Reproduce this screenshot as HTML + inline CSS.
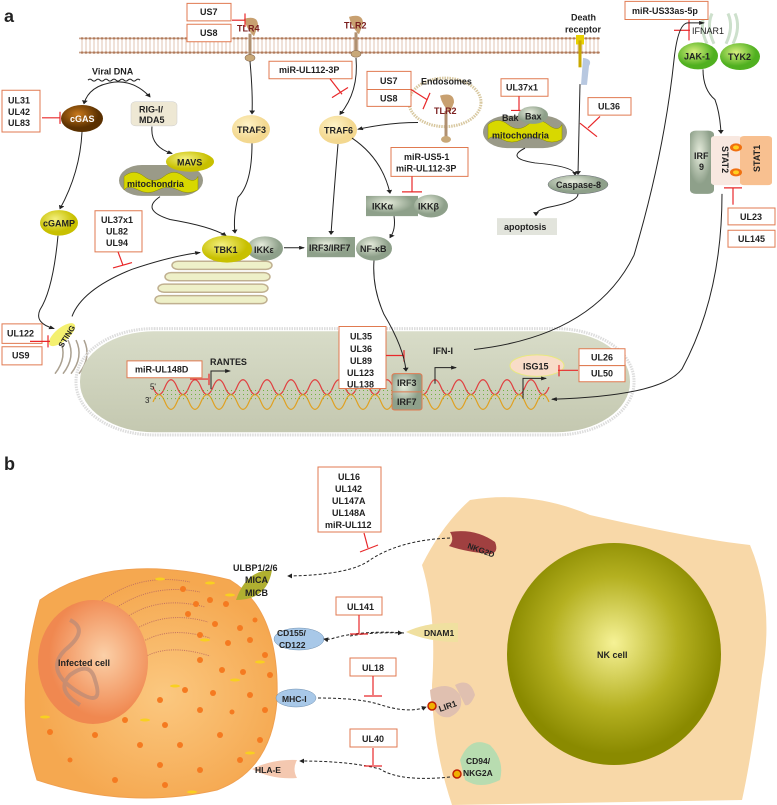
<!DOCTYPE html>
<html><head><meta charset="utf-8"><style>
html,body{margin:0;padding:0;background:#fff}
svg{display:block}
text{font-family:"Liberation Sans",Arial,sans-serif;font-size:9px;fill:#222;font-weight:bold}
.a text{transform-box:fill-box;transform-origin:center;transform:scaleY(1.485)}
.a path,.a line,.a rect,.a circle,.a ellipse{vector-effect:non-scaling-stroke}
.bx{fill:#fff;stroke:#e07a50;stroke-width:1}
.ln{fill:none;stroke:#222;stroke-width:1}
.ds{fill:none;stroke:#222;stroke-width:1;stroke-dasharray:3,2}
.rd{stroke:#e8282a;stroke-width:1.2;fill:none}
.gol{fill:#eef0c8;stroke:#c0b090;stroke-width:1.5}
</style></head><body>
<svg width="777" height="805" viewBox="0 0 777 805" xmlns="http://www.w3.org/2000/svg">
<defs>
<marker id="ar" viewBox="0 0 6 6" refX="5" refY="3" markerWidth="5" markerHeight="5" orient="auto"><path d="M0,0L6,3L0,6z" fill="#222"/></marker>
<radialGradient id="gy" cx="40%" cy="35%"><stop offset="0" stop-color="#f4f080"/><stop offset="1" stop-color="#c8c000"/></radialGradient>
<radialGradient id="gl" cx="40%" cy="35%"><stop offset="0" stop-color="#fff4c8"/><stop offset="1" stop-color="#f3d890"/></radialGradient>
<radialGradient id="gg" cx="40%" cy="35%"><stop offset="0" stop-color="#e6ecdc"/><stop offset="1" stop-color="#8ea08a"/></radialGradient>
<radialGradient id="gr" cx="40%" cy="35%"><stop offset="0" stop-color="#d8f080"/><stop offset="1" stop-color="#50b020"/></radialGradient>
<radialGradient id="gb" cx="40%" cy="35%"><stop offset="0" stop-color="#c8781a"/><stop offset="1" stop-color="#5a3000"/></radialGradient>
<radialGradient id="nk" cx="50%" cy="45%"><stop offset="0" stop-color="#f6f296"/><stop offset="0.6" stop-color="#b4b020"/><stop offset="1" stop-color="#8a8a00"/></radialGradient>
<radialGradient id="ic" cx="55%" cy="55%"><stop offset="0" stop-color="#fbc880"/><stop offset="1" stop-color="#f5a850"/></radialGradient>
<radialGradient id="nu" cx="60%" cy="45%"><stop offset="0" stop-color="#fbd0a8"/><stop offset="1" stop-color="#f08850"/></radialGradient>
<linearGradient id="nuc" x1="0" y1="0" x2="0" y2="1"><stop offset="0" stop-color="#d8dcc8"/><stop offset="1" stop-color="#c4c8b0"/></linearGradient>
<pattern id="mem" width="4" height="27" patternUnits="userSpaceOnUse"><circle cx="2" cy="3" r="1.8" fill="#b07a5a"/><circle cx="2" cy="24" r="1.8" fill="#b07a5a"/><line x1="2" y1="5" x2="2" y2="22" stroke="#d8b8a0" stroke-width="0.8"/></pattern>
</defs>

<g class="a" transform="scale(1,0.6733)">
<text x="4" y="30" style="font-size:18px">a</text>
<rect x="79" y="55" width="521" height="27" fill="url(#mem)"/>
<path d="M244,28 q14,-6 14,10 l-4,16 q-8,-12 -10,-26z" fill="#c8a070"/>
<line x1="250" y1="50" x2="250" y2="85" stroke="#b09070" stroke-width="3"/>
<circle cx="250" cy="86" r="5" fill="#c8a878" stroke="#8a6a50" stroke-width="0.6"/>
<text x="237" y="45" style="fill:#7a1e1e">TLR4</text>
<path d="M349,25 q14,-6 14,10 l-4,16 q-8,-12 -10,-26z" fill="#c8a070"/>
<line x1="356" y1="48" x2="356" y2="80" stroke="#b09070" stroke-width="3"/>
<circle cx="356" cy="80" r="5" fill="#c8a878" stroke="#8a6a50" stroke-width="0.6"/>
<text x="344" y="41" style="fill:#7a1e1e">TLR2</text>
<text x="571" y="29">Death</text><text x="565" y="47">receptor</text>
<rect x="576" y="52" width="8" height="14" fill="#e8d000"/>
<line x1="580" y1="60" x2="580" y2="100" stroke="#c8a800" stroke-width="3"/>
<path d="M583,86 q10,2 6,12 l-2,28 l-6,0 z" fill="#b8c8e0"/>
<path d="M705,20 q-6,20 2,45 M712,20 q-6,20 2,45 M728,20 q6,20 -2,45 M735,20 q6,20 -2,45" stroke="#cde0cc" stroke-width="3" fill="none"/>
<rect class="bx" x="625" y="2" width="83" height="27"/><text x="632" y="19">miR-US33as-5p</text>
<text x="692" y="49" style="font-weight:normal">IFNAR1</text>
<line class="rd" x1="689" y1="30" x2="689" y2="60"/><line class="rd" x1="674" y1="45" x2="690" y2="45"/>
<ellipse cx="698" cy="83" rx="20" ry="20" fill="url(#gr)"/><text x="684" y="87">JAK-1</text>
<ellipse cx="740" cy="84" rx="20" ry="20" fill="url(#gr)"/><text x="728" y="88">TYK2</text>

<rect class="bx" x="187" y="5" width="44" height="26"/><text x="200" y="21">US7</text>
<rect class="bx" x="187" y="36" width="44" height="26"/><text x="200" y="52">US8</text>
<line class="rd" x1="232" y1="30" x2="245" y2="30"/><line class="rd" x1="245" y1="20" x2="245" y2="40"/>

<text x="92" y="109">Viral DNA</text>
<path d="M88,119 q2,-3 4,0 t4,0 t4,0 t4,0 t4,0 t4,0 t4,0 t4,0 t4,0 t4,0 t4,0 t4,0 t4,0" class="ln" stroke-width="0.8"/>
<path class="ln" d="M114,122 q-25,5 -30,32" marker-end="url(#ar)"/>
<path class="ln" d="M114,122 q20,-3 36,22" marker-end="url(#ar)"/>
<rect class="bx" x="2" y="134" width="38" height="62"/><text x="8" y="152">UL31</text><text x="8" y="169">UL42</text><text x="8" y="186">UL83</text>
<line class="rd" x1="42" y1="175" x2="60" y2="175"/><line class="rd" x1="60" y1="166" x2="60" y2="184"/>
<ellipse cx="82" cy="176" rx="21" ry="20" fill="url(#gb)"/><text x="70" y="180" style="fill:#fff">cGAS</text>
<rect x="131" y="151" width="46" height="36" rx="5" fill="#eee8d4" stroke="#ccc" stroke-width="0.5"/><text x="139" y="166">RIG-I/</text><text x="139" y="181">MDA5</text>
<path class="ln" d="M82,196 q-2,60 -22,114" marker-end="url(#ar)"/>
<ellipse cx="59" cy="331" rx="19" ry="19" fill="url(#gy)"/><text x="43" y="335">cGAMP</text>
<path class="ln" d="M152,188 q-2,30 20,40" marker-end="url(#ar)"/>
<rect x="119" y="245" width="84" height="46" rx="23" fill="#9a9a88"/>
<path d="M124,262 q10,-12 20,0 t20,0 t20,0 t14,0 v20 q-10,8 -20,0 t-20,0 t-20,0 t-14,0z" fill="#d8d800" stroke="#8a8a00" stroke-width="0.5"/>
<text x="127" y="276">mitochondria</text>
<ellipse cx="190" cy="240" rx="24" ry="15" fill="url(#gy)"/><text x="177" y="244">MAVS</text>
<path class="ln" d="M160,292 q-20,20 10,34 q40,10 56,24" marker-end="url(#ar)"/>
<ellipse cx="251" cy="192" rx="19" ry="21" fill="url(#gl)"/><text x="237" y="196">TRAF3</text>
<path class="ln" d="M250,91 q3,50 2,78" marker-end="url(#ar)"/>
<path class="ln" d="M252,213 q0,60 -14,80 q-5,30 -3,53" marker-end="url(#ar)"/>
<rect class="bx" x="269" y="91" width="83" height="26"/><text x="279" y="107">miR-UL112-3P</text>
<line class="rd" x1="330" y1="117" x2="342" y2="140"/><line class="rd" x1="332" y1="145" x2="348" y2="130"/>
<path class="ln" d="M356,86 q3,50 -16,84" marker-end="url(#ar)"/>
<ellipse cx="338" cy="193" rx="19" ry="21" fill="url(#gl)"/><text x="324" y="197">TRAF6</text>
<circle cx="445" cy="152" r="36" fill="none" stroke="#d8c8a0" stroke-width="3" stroke-dasharray="1.5,1"/>
<text x="421" y="124">Endosomes</text>
<path d="M440,142 q14,-6 14,10 l-4,16 q-8,-12 -10,-26z" fill="#c8a070"/>
<line x1="446" y1="165" x2="446" y2="205" stroke="#b09070" stroke-width="3"/>
<circle cx="446" cy="207" r="5" fill="#c8a878"/>
<text x="434" y="168" style="fill:#7a1e1e">TLR2</text>
<rect class="bx" x="367" y="106" width="44" height="27"/><text x="380" y="123">US7</text>
<rect class="bx" x="367" y="133" width="44" height="25"/><text x="380" y="149">US8</text>
<line class="rd" x1="411" y1="133" x2="427" y2="148"/><line class="rd" x1="430" y1="138" x2="423" y2="162"/>
<path class="ln" d="M418,182 q-30,0 -60,10" marker-end="url(#ar)"/>
<rect class="bx" x="501" y="117" width="47" height="26"/><text x="506" y="133">UL37x1</text>
<line class="rd" x1="519" y1="143" x2="519" y2="165"/><line class="rd" x1="511" y1="164" x2="528" y2="164"/>
<rect x="483" y="172" width="84" height="48" rx="24" fill="#9a9a88"/>
<path d="M488,185 q10,-12 20,0 t20,0 t20,0 t14,0 v22 q-10,8 -20,0 t-20,0 t-20,0 t-14,0z" fill="#d8d800" stroke="#8a8a00" stroke-width="0.5"/>
<ellipse cx="533" cy="171" rx="15" ry="13" fill="url(#gg)"/>
<text x="502" y="178">Bak</text><text x="525" y="176">Bax</text>
<text x="492" y="204">mitochondria</text>
<rect class="bx" x="588" y="145" width="43" height="26"/><text x="598" y="161">UL36</text>
<line class="rd" x1="600" y1="173" x2="588" y2="190"/><line class="rd" x1="580" y1="183" x2="597" y2="203"/>
<path class="ln" d="M580,125 q-1,60 -2,134" marker-end="url(#ar)"/>
<path class="ln" d="M525,220 q-20,15 10,22 q40,5 40,18" marker-end="url(#ar)"/>
<ellipse cx="578" cy="274" rx="30" ry="14" fill="url(#gg)" stroke="#556" stroke-width="0.4"/><text x="556" y="278">Caspase-8</text>
<path class="ln" d="M578,288 q0,12 -30,20 q-12,4 -12,12" marker-end="url(#ar)"/>
<rect x="497" y="324" width="60" height="25" fill="#e2e4dc"/><text x="504" y="340">apoptosis</text>
<rect class="bx" x="391" y="219" width="77" height="43"/><text x="404" y="236">miR-US5-1</text><text x="396" y="253">miR-UL112-3P</text>
<line class="rd" x1="412" y1="262" x2="412" y2="285"/><line class="rd" x1="402" y1="285" x2="422" y2="285"/>
<path class="ln" d="M352,205 q30,30 38,82" marker-end="url(#ar)"/>
<rect x="366" y="291" width="52" height="30" fill="url(#gg)"/>
<ellipse cx="431" cy="306" rx="17" ry="17" fill="url(#gg)"/>
<text x="372" y="310">IKKα</text><text x="418" y="310">IKKβ</text>
<path class="ln" d="M394,321 q2,20 -4,32" marker-end="url(#ar)"/>
<path class="ln" d="M338,214 q-4,70 -7,134" marker-end="url(#ar)"/>
<rect class="bx" x="95" y="313" width="47" height="61"/><text x="101" y="330">UL37x1</text><text x="106" y="347">UL82</text><text x="106" y="364">UL94</text>
<line class="rd" x1="118" y1="374" x2="123" y2="394"/><line class="rd" x1="113" y1="398" x2="132" y2="390"/>
<!-- golgi -->
<rect class="gol" x="172" y="388" width="100" height="12" rx="6"/>
<rect class="gol" x="165" y="405" width="105" height="12" rx="6"/>
<rect class="gol" x="158" y="422" width="110" height="12" rx="6"/>
<rect class="gol" x="155" y="439" width="112" height="12" rx="6"/>
<ellipse cx="265" cy="369" rx="18" ry="18" fill="url(#gg)"/>
<ellipse cx="227" cy="370" rx="25" ry="20" fill="url(#gy)"/>
<text x="214" y="374">TBK1</text><text x="254" y="374">IKKε</text>
<path class="ln" d="M284,368 L304,368" marker-end="url(#ar)"/>
<rect x="307" y="352" width="48" height="30" fill="url(#gg)"/><text x="309" y="371">IRF3/IRF7</text>
<ellipse cx="374" cy="369" rx="18" ry="18" fill="url(#gg)"/><text x="360" y="373">NF-κB</text>
<path class="ln" d="M58,350 q-5,80 -18,110 q-6,20 14,28" marker-end="url(#ar)"/>
<path class="ln" d="M72,470 q10,-40 60,-70 q40,-20 68,-25" marker-end="url(#ar)"/>
<path d="M60,505 q8,25 -5,50 M68,505 q8,25 -5,50 M76,505 q8,25 -5,50 M84,505 q8,25 -5,50" stroke="#aaa090" stroke-width="1.5" fill="none"/>
<ellipse cx="62" cy="497" rx="8" ry="20" transform="rotate(35 62 497)" fill="#f4f070"/>
<rect class="bx" x="2" y="481" width="40" height="29"/><text x="7" y="498">UL122</text>
<rect class="bx" x="2" y="515" width="40" height="27"/><text x="12" y="531">US9</text>
<line class="rd" x1="30" y1="507" x2="50" y2="507"/><line class="rd" x1="48" y1="498" x2="48" y2="516"/>
<rect x="76" y="488" width="558" height="158" rx="78" fill="none" stroke="#ddd" stroke-width="3" stroke-dasharray="1.5,1"/>
<rect x="80" y="492" width="550" height="150" rx="74" fill="url(#nuc)"/>
<path d="M153,575 q6,22 12,0 t12,0 t12,0 t12,0 t12,0 t12,0 t12,0 t12,0 t12,0 t12,0 t12,0 t12,0 t12,0 t12,0 t12,0 t12,0 t12,0 t12,0 t12,0 t12,0 t12,0 t12,0 t12,0 t12,0 t12,0 t12,0 t12,0 t12,0 t12,0 t12,0 t12,0 t12,0 t12,0" fill="none" stroke="#e04040" stroke-width="1.2"/>
<path d="M153,597 q6,-22 12,0 t12,0 t12,0 t12,0 t12,0 t12,0 t12,0 t12,0 t12,0 t12,0 t12,0 t12,0 t12,0 t12,0 t12,0 t12,0 t12,0 t12,0 t12,0 t12,0 t12,0 t12,0 t12,0 t12,0 t12,0 t12,0 t12,0 t12,0 t12,0 t12,0 t12,0 t12,0 t12,0" fill="none" stroke="#e0a020" stroke-width="1.2"/>
<path d="M155,580 h390 M155,586 h390 M155,592 h390" stroke="#70b040" stroke-width="1" stroke-dasharray="1,3"/>
<text x="150" y="577" style="font-size:8px;font-weight:normal">5'</text><text x="145" y="597" style="font-size:8px;font-weight:normal">3'</text>
<rect class="bx" x="127" y="536" width="75" height="25"/><text x="135" y="552">miR-UL148D</text>
<line class="rd" x1="190" y1="563" x2="208" y2="563"/><line class="rd" x1="209" y1="555" x2="209" y2="572"/>
<path d="M211,578 V551 H230" class="ln" stroke-width="1.8" marker-end="url(#ar)"/>
<text x="210" y="541">RANTES</text>
<rect class="bx" x="339" y="485" width="47" height="92"/>
<text x="350" y="503">UL35</text><text x="350" y="521">UL36</text><text x="350" y="539">UL89</text><text x="347" y="557">UL123</text><text x="347" y="574">UL138</text>
<line class="rd" x1="386" y1="528" x2="404" y2="528"/><line class="rd" x1="404" y1="520" x2="404" y2="537"/>
<path class="ln" d="M374,387 q-2,40 10,80 q20,50 22,84" marker-end="url(#ar)"/>
<rect x="392" y="555" width="30" height="54" rx="3" fill="url(#gg)" stroke="#e07a50"/>
<line x1="392" y1="582" x2="422" y2="582" stroke="#e07a50"/>
<text x="397" y="572">IRF3</text><text x="397" y="600">IRF7</text>
<path d="M435,570 V546 H456" class="ln" stroke-width="1.8" marker-end="url(#ar)"/>
<text x="433" y="524">IFN-I</text>
<path class="ln" d="M474,519 q120,-20 160,-140 q30,-150 40,-290 q4,-55 14,-55 l16,0" marker-end="url(#ar)"/>
<ellipse cx="537" cy="543" rx="27" ry="16" fill="#f8dcc8" stroke="#e8e880" stroke-width="1"/><text x="523" y="547">ISG15</text>
<path d="M523,592 V562 H546" class="ln" stroke-width="1.8" marker-end="url(#ar)"/>
<rect class="bx" x="579" y="518" width="46" height="25"/><text x="591" y="534">UL26</text>
<rect class="bx" x="579" y="543" width="46" height="24"/><text x="591" y="558">UL50</text>
<line class="rd" x1="558" y1="550" x2="578" y2="550"/><line class="rd" x1="559" y1="542" x2="559" y2="559"/>
<path class="ln" d="M703,103 q0,30 12,45 q5,20 6,50" marker-end="url(#ar)"/>
<rect x="690" y="194" width="24" height="94" rx="6" fill="url(#gg)"/>
<text x="694" y="235">IRF</text><text x="699" y="251">9</text>
<rect x="711" y="202" width="31" height="73" rx="4" fill="#f8e8e0"/>
<rect x="740" y="202" width="32" height="73" rx="4" fill="#f8c090"/>
<ellipse cx="736" cy="219" rx="6" ry="6" fill="#f07010"/><ellipse cx="736" cy="219" rx="3" ry="3" fill="#ffd020"/>
<ellipse cx="736" cy="256" rx="6" ry="6" fill="#f07010"/><ellipse cx="736" cy="256" rx="3" ry="3" fill="#ffd020"/>
<line class="rd" x1="733" y1="279" x2="733" y2="304"/><line class="rd" x1="724" y1="279" x2="742" y2="279"/>
<rect class="bx" x="728" y="309" width="47" height="25"/><text x="740" y="325">UL23</text>
<rect class="bx" x="728" y="342" width="47" height="25"/><text x="738" y="358">UL145</text>
<path class="ln" d="M722,288 q0,150 -40,260 q-20,40 -130,45" marker-end="url(#ar)"/>
</g>
<text x="52" y="343" transform="rotate(-58 62 336)" style="font-size:8px">STING</text>
<text x="722" y="146" transform="rotate(90 722 146)">STAT2</text>
<text x="760" y="172" transform="rotate(-90 760 172)">STAT1</text>

<!-- ===== Part b ===== -->
<text x="4" y="470" style="font-size:18px">b</text>
<path d="M470,500 q60,-10 120,15 q110,25 160,30 q25,60 12,130 q-10,80 -20,125 l-290,5 q-20,-60 -20,-120 q5,-70 -10,-120 q20,-40 48,-65z" fill="#f8d8a8"/>
<ellipse cx="614" cy="654" rx="107" ry="111" fill="url(#nk)"/>
<text x="597" y="658">NK cell</text>
<path d="M40,600 q70,-50 190,-20 q50,30 47,120 q-5,70 -60,90 q-90,20 -180,-10 q-25,-80 3,-180z" fill="url(#ic)" stroke="#f0a050" stroke-width="1"/>
<g stroke="#c07060" stroke-width="1" fill="none" stroke-dasharray="1,1.2">
<path d="M100,602 q40,-30 90,-20"/><path d="M110,612 q40,-30 90,-20"/><path d="M120,622 q35,-28 85,-15"/><path d="M128,634 q35,-25 80,-12"/><path d="M136,646 q30,-22 74,-8"/><path d="M140,660 q25,-18 70,-4"/>
</g>
<g fill="#f57a20">
<circle cx="183" cy="589" r="3"/><circle cx="196" cy="604" r="3"/><circle cx="210" cy="600" r="3"/><circle cx="226" cy="604" r="3"/><circle cx="188" cy="614" r="3"/><circle cx="215" cy="624" r="3"/><circle cx="240" cy="628" r="3"/><circle cx="255" cy="620" r="2.5"/><circle cx="200" cy="635" r="3"/><circle cx="228" cy="643" r="3"/><circle cx="250" cy="640" r="3"/><circle cx="265" cy="655" r="3"/><circle cx="200" cy="660" r="3"/><circle cx="222" cy="670" r="3"/><circle cx="243" cy="672" r="3"/><circle cx="270" cy="675" r="3"/><circle cx="185" cy="690" r="3"/><circle cx="213" cy="693" r="3"/><circle cx="250" cy="695" r="3"/><circle cx="160" cy="700" r="3"/><circle cx="125" cy="720" r="3"/><circle cx="165" cy="725" r="3"/><circle cx="200" cy="710" r="3"/><circle cx="232" cy="712" r="2.5"/><circle cx="265" cy="710" r="3"/><circle cx="50" cy="732" r="3"/><circle cx="95" cy="735" r="3"/><circle cx="140" cy="745" r="3"/><circle cx="180" cy="745" r="3"/><circle cx="220" cy="735" r="3"/><circle cx="260" cy="740" r="3"/><circle cx="160" cy="765" r="3"/><circle cx="200" cy="770" r="3"/><circle cx="240" cy="760" r="3"/><circle cx="115" cy="780" r="3"/><circle cx="165" cy="785" r="3"/><circle cx="70" cy="760" r="2.5"/>
</g>
<g fill="#f8d020"><ellipse cx="160" cy="579" rx="5" ry="1.5"/><ellipse cx="210" cy="583" rx="5" ry="1.5"/><ellipse cx="230" cy="595" rx="5" ry="1.5"/><ellipse cx="260" cy="662" rx="5" ry="1.5"/><ellipse cx="235" cy="680" rx="5" ry="1.5"/><ellipse cx="175" cy="686" rx="5" ry="1.5"/><ellipse cx="145" cy="720" rx="5" ry="1.5"/><ellipse cx="45" cy="717" rx="5" ry="1.5"/><ellipse cx="250" cy="753" rx="5" ry="1.5"/><ellipse cx="192" cy="792" rx="5" ry="1.5"/><ellipse cx="205" cy="640" rx="5" ry="1.5"/></g>
<ellipse cx="93" cy="662" rx="55" ry="62" fill="url(#nu)"/>
<path d="M70,620 q20,10 -5,30 q-20,20 10,40 q30,20 20,-10 q-5,-20 -25,-5 q-15,15 10,30" fill="none" stroke="#b88a78" stroke-width="4" opacity="0.7"/>
<text x="58" y="666">Infected cell</text>
<path d="M236,600 q10,-30 36,-30 q-5,30 -36,30z" fill="#b0b030"/>
<text x="233" y="571">ULBP1/2/6</text><text x="245" y="583">MICA</text><text x="245" y="596">MICB</text>
<path d="M450,532 q25,-4 45,10 q4,10 -4,12 q-25,-2 -42,-8 q6,-6 1,-14z" fill="#a04040"/>
<text x="467" y="548" transform="rotate(20 467 548)" style="font-size:8px;fill:#222">NKG2D</text>
<path class="ds" d="M450,538 q-50,2 -80,22 q-20,15 -82,16" marker-end="url(#ar)"/>
<rect class="bx" x="318" y="467" width="63" height="65"/>
<text x="338" y="480">UL16</text><text x="335" y="492">UL142</text><text x="332" y="504">UL147A</text><text x="332" y="516">UL148A</text><text x="325" y="528">miR-UL112</text>
<line class="rd" x1="364" y1="533" x2="368" y2="548"/><line class="rd" x1="360" y1="552" x2="378" y2="545"/>
<ellipse cx="299" cy="639" rx="25" ry="11" fill="#a8c8e8" stroke="#7090b0" stroke-width="0.5"/>
<text x="277" y="636" style="font-size:8.5px">CD155/</text><text x="279" y="648" style="font-size:8.5px">CD122</text>
<path d="M406,632 q20,-10 52,-9 v19 q-30,0 -52,-10z" fill="#f0e0a0"/><text x="424" y="636" style="font-size:8.5px">DNAM1</text>
<path class="ds" d="M404,633 q-40,-3 -70,5 q-5,2 -10,1" marker-end="url(#ar)"/>
<path class="ds" d="M350,636 q20,-4 52,-3" marker-end="url(#ar)"/>
<rect class="bx" x="336" y="597" width="46" height="18"/><text x="347" y="610">UL141</text>
<line class="rd" x1="359" y1="615" x2="359" y2="633"/><line class="rd" x1="350" y1="634" x2="368" y2="634"/>
<ellipse cx="296" cy="698" rx="20" ry="9" fill="#a8c8e8" stroke="#7090b0" stroke-width="0.5"/><text x="282" y="702" style="font-size:8.5px">MHC-I</text>
<path d="M430,690 q20,-10 30,5 q5,15 -10,22 q-18,3 -20,-27z M455,685 q15,-8 20,10 q-5,12 -10,10" fill="#e0c0b0"/>
<circle cx="432" cy="706" r="4" fill="#f0b000" stroke="#c02000" stroke-width="1.5"/>
<text x="440" y="712" transform="rotate(-20 440 712)" style="font-size:8.5px">LIR1</text>
<path class="ds" d="M318,698 q40,0 60,6 q30,10 48,3" marker-end="url(#ar)"/>
<rect class="bx" x="350" y="658" width="46" height="18"/><text x="362" y="671">UL18</text>
<line class="rd" x1="373" y1="676" x2="373" y2="695"/><line class="rd" x1="364" y1="696" x2="382" y2="696"/>
<path d="M252,769 q20,-10 45,-9 q-5,9 0,18 q-25,2 -45,-9z" fill="#f4c8b0"/><text x="255" y="773" style="font-size:8.5px">HLA-E</text>
<path d="M460,760 q10,-25 30,-15 q15,15 10,35 q-20,10 -35,0z" fill="#b8dcb0"/>
<circle cx="457" cy="774" r="4" fill="#f0b000" stroke="#c02000" stroke-width="1.5"/>
<text x="466" y="764" style="font-size:8.5px">CD94/</text><text x="463" y="776" style="font-size:8.5px">NKG2A</text>
<path class="ds" d="M450,777 q-50,5 -70,-8 q-30,-8 -80,-8" marker-end="url(#ar)"/>
<rect class="bx" x="350" y="729" width="47" height="18"/><text x="362" y="742">UL40</text>
<line class="rd" x1="373" y1="748" x2="373" y2="765"/><line class="rd" x1="364" y1="766" x2="382" y2="766"/>
</svg>
</body></html>
